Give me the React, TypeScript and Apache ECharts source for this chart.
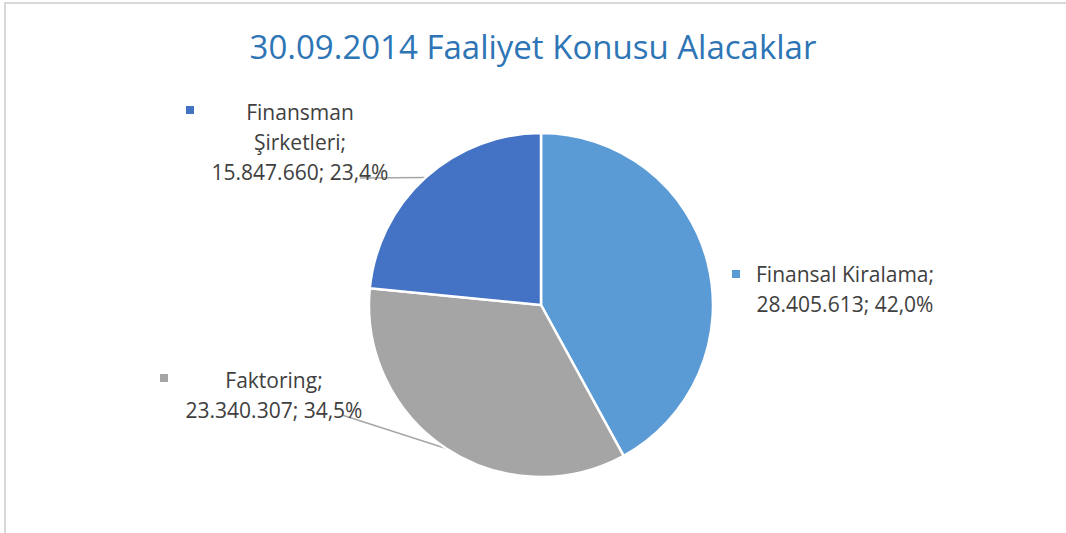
import React, { useEffect, useRef } from "react";
import * as echarts from "echarts";

const title = "30.09.2014 Faaliyet Konusu Alacaklar";
const categories = ["Finansal Kiralama", "Faktoring", "Finansman Şirketleri"];
const labelNames = ["Finansal Kiralama", "Faktoring", "Finansman\nŞirketleri"];
const values = [28405613, 23340307, 15847660];
const colors = ["#5B9BD5", "#A5A5A5", "#4472C4"];

const fmtNum = (v: number) => String(v).replace(/\B(?=(\d{3})+(?!\d))/g, ".");

export default function App() {
  const ref = useRef<HTMLDivElement>(null);
  useEffect(() => {
    if (!ref.current) return;
    const chart = echarts.init(ref.current, null, { renderer: "svg" });
    const total = values.reduce((a, b) => a + b, 0);
    const center = [541, 305];
    const radius = 172;
    // label placement (text block: center x, top y)
    const labelPos = [
      { x: 845, y: 259 },
      { x: 274, y: 365 },
      { x: 300, y: 97 },
    ];
    // where the leader line meets the label text
    const lineEnd: (number[] | null)[] = [null, [342, 415], [360, 178]];
    const markerPos = [
      { x: 736, y: 274 },
      { x: 164, y: 378 },
      { x: 190, y: 110 },
    ];
    // anchor on the slice edge at its middle angle
    const anchors: number[][] = [];
    let cum = 0;
    values.forEach((v) => {
      const mid = (cum + v / 2) / total;
      cum += v;
      const a = mid * Math.PI * 2;
      anchors.push([center[0] + radius * Math.sin(a), center[1] - radius * Math.cos(a)]);
    });
    const data = categories.map((c, i) => ({
      name: c,
      value: values[i],
      itemStyle: { color: colors[i] },
      labelLine: { show: i !== 0 },
    }));
    chart.setOption({
      animation: false,
      title: {
        text: title,
        left: "center",
        top: 25,
        textStyle: {
          fontFamily: "Open Sans",
          fontSize: 33,
          fontWeight: "normal",
          color: "#2E75B6",
        },
      },
      graphic: [
        {
          type: "rect",
          shape: { x: 5, y: 3, width: 1200, height: 700 },
          style: { fill: "none", stroke: "#D9D9D9", lineWidth: 2 },
          silent: true,
        },
      ],
      series: [
        {
          type: "pie",
          center,
          radius,
          startAngle: 90,
          clockwise: true,
          silent: true,
          data,
          itemStyle: { borderColor: "#ffffff", borderWidth: 2.5 },
          label: {
            show: true,
            position: "outside",
            fontFamily: "Open Sans",
            fontSize: 21,
            lineHeight: 30,
            color: "#404040",
            align: "center",
            formatter: (p: any) =>
              `${labelNames[p.dataIndex]};\n${fmtNum(p.value)}; ${((p.value / total) * 100)
                .toFixed(1)
                .replace(".", ",")}%`,
          },
          labelLine: {
            show: true,
            lineStyle: { color: "#A6A6A6", width: 1.5 },
          },
          labelLayout: (params: any) => {
            const i = params.dataIndex;
            const res: any = {
              x: labelPos[i].x,
              y: labelPos[i].y,
              align: "center",
              verticalAlign: "top",
            };
            const e = lineEnd[i];
            if (e) {
              res.labelLinePoints = [anchors[i], e, e];
            }
            return res;
          },
        },
        {
          type: "pie",
          center,
          radius,
          startAngle: 90,
          clockwise: true,
          silent: true,
          z: 1,
          data: categories.map((c, i) => ({
            name: c,
            value: values[i],
            itemStyle: { color: "rgba(0,0,0,0)" },
            label: { backgroundColor: colors[i] },
          })),
          label: {
            show: true,
            formatter: " ",
            width: 8,
            height: 8,
            fontSize: 8,
            lineHeight: 8,
            padding: 0,
          },
          labelLine: { show: false },
          labelLayout: (params: any) => ({
            x: markerPos[params.dataIndex].x,
            y: markerPos[params.dataIndex].y,
            align: "center",
            verticalAlign: "middle",
          }),
        },
      ],
    });
    return () => chart.dispose();
  }, []);
  return (
    <div
      ref={ref}
      style={{ position: "fixed", left: 0, top: 0, width: 1066, height: 533, background: "#fff" }}
    />
  );
}
